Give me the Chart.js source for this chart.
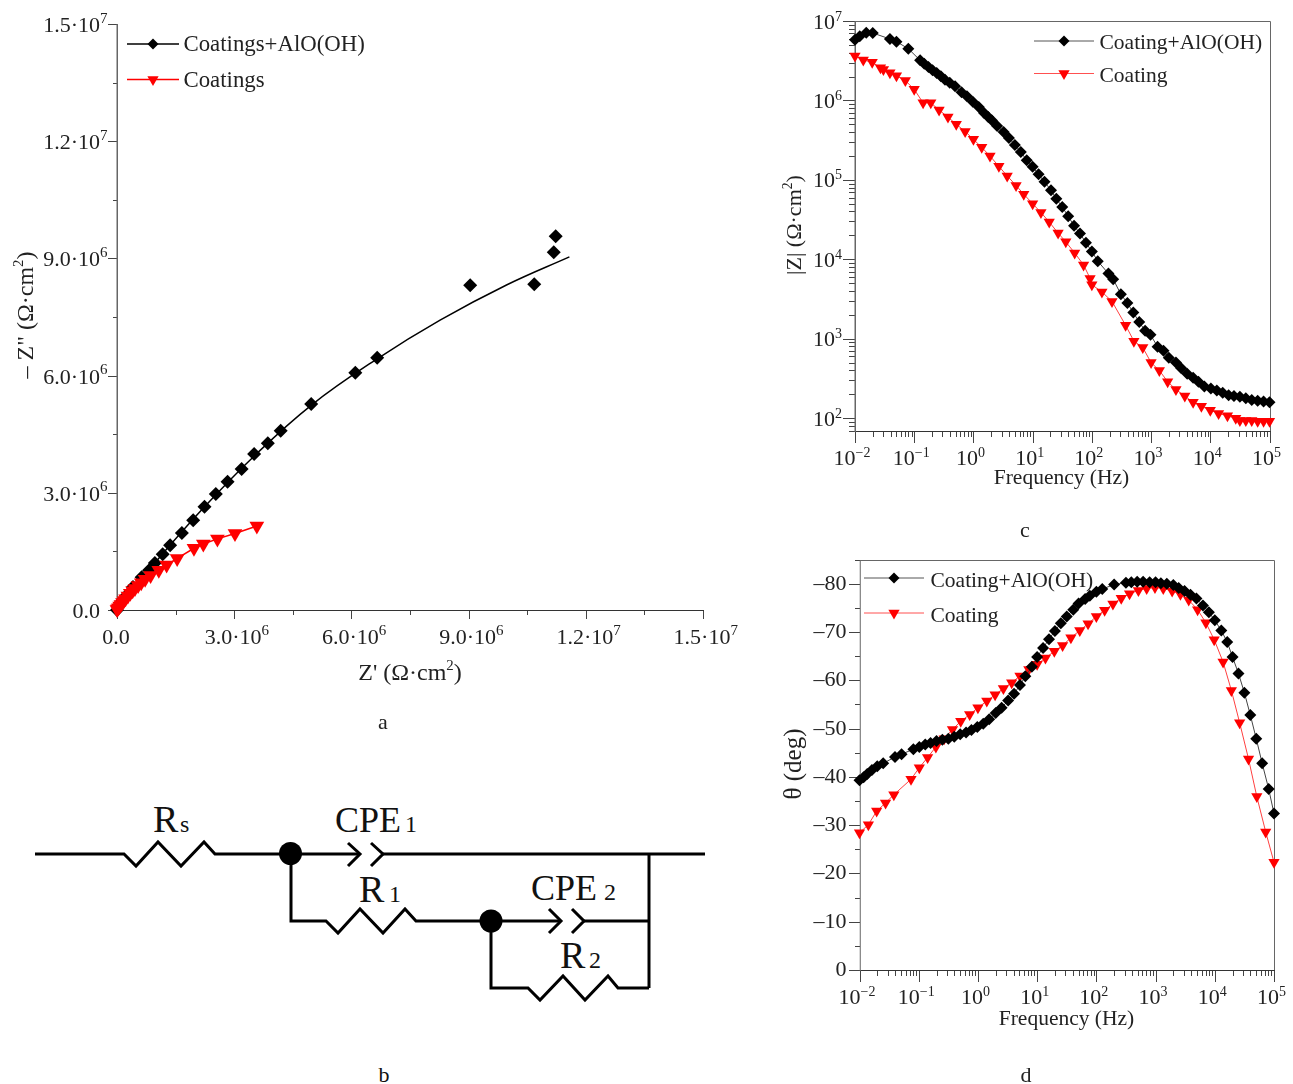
<!DOCTYPE html>
<html>
<head>
<meta charset="utf-8">
<title>EIS plots</title>
<script src="https://cdn.jsdelivr.net/npm/chart.js@4/dist/chart.umd.js"></script>
<style>
body { margin: 0; background: #fff; }
#page { position: relative; width: 1293px; height: 1084px; overflow: hidden; }
canvas, svg { position: absolute; display: block; }
svg text { font-family: "Liberation Serif", serif; fill: #111; }
</style>
</head>
<body>
<div id="page">
<canvas id="chartA" width="770" height="770" style="left:0;top:0"></canvas>
<canvas id="chartC" width="523" height="550" style="left:770px;top:0"></canvas>
<canvas id="chartD" width="523" height="534" style="left:770px;top:550px"></canvas>
<svg id="circuit" width="770" height="314" viewBox="0 770 770 314" style="left:0;top:770px">
  <g fill="none" stroke="#000" stroke-width="3" stroke-linejoin="miter">
    <polyline points="35,854 124,854 136,866 158,842 181,866 204,842 215,854 360,854"/>
    <polyline points="348,843 360,854 348,866"/>
    <polyline points="371,843 383,854 371,866"/>
    <polyline points="383,854 705,854"/>
    <polyline points="649,854 649,988"/>
    <polyline points="291,854 291,921 326,921 338,933 360,909 383,933 405,909 416,921 561,921"/>
    <polyline points="549,909 561,921 549,933"/>
    <polyline points="572,909 584,921 572,933"/>
    <polyline points="584,921 649,921"/>
    <polyline points="491,921 491,988 528,988 540,1000 563,976 585,1000 608,976 618,988 649,988"/>
  </g>
  <circle cx="290.5" cy="853.5" r="11.5"/>
  <circle cx="491" cy="921" r="11.5"/>
  <text x="153" y="832" font-size="38">R</text><text x="180" y="832" font-size="24">s</text>
  <text x="335" y="832" font-size="36">CPE</text><text x="405" y="832" font-size="24">1</text>
  <text x="359" y="902" font-size="38">R</text><text x="389" y="902" font-size="24">1</text>
  <text x="531" y="900" font-size="36">CPE</text><text x="604" y="900" font-size="24">2</text>
  <text x="560" y="968" font-size="38">R</text><text x="589" y="968" font-size="24">2</text>
  <text x="384" y="1082" font-size="22" text-anchor="middle">b</text>
</svg>
</div>
<script>
// panel a - Nyquist (ohm.cm2)
const aBlackRe = [0, 0.08e6, 0.25e6, 0.41e6, 0.63e6, 0.82e6, 0.97e6, 1.17e6, 1.36e6, 1.66e6, 1.95e6, 2.24e6, 2.53e6, 2.83e6, 3.19e6, 3.51e6, 3.86e6, 4.19e6, 4.97e6, 6.10e6, 6.66e6, 9.04e6, 10.68e6, 11.18e6, 11.23e6];
const aBlackIm = [0, 0.18e6, 0.38e6, 0.59e6, 0.84e6, 1.02e6, 1.20e6, 1.43e6, 1.66e6, 1.97e6, 2.30e6, 2.64e6, 2.97e6, 3.28e6, 3.61e6, 3.99e6, 4.27e6, 4.59e6, 5.27e6, 6.07e6, 6.46e6, 8.31e6, 8.34e6, 9.16e6, 9.57e6];
const aFitRe = [0, 1.0e6, 2.24e6, 3.5e6, 4.97e6, 6.66e6, 8.27e6, 9.97e6, 11.58e6];
const aFitIm = [0, 1.24e6, 2.64e6, 3.93e6, 5.24e6, 6.43e6, 7.42e6, 8.32e6, 9.04e6];
const aRedRe = [0, 0.02e6, 0.04e6, 0.07e6, 0.10e6, 0.14e6, 0.18e6, 0.22e6, 0.28e6, 0.34e6, 0.40e6, 0.46e6, 0.54e6, 0.62e6, 0.72e6, 0.86e6, 1.07e6, 1.27e6, 1.54e6, 1.97e6, 2.21e6, 2.57e6, 3.02e6, 3.58e6];
const aRedIm = [0.01e6, 0.03e6, 0.06e6, 0.10e6, 0.14e6, 0.19e6, 0.24e6, 0.29e6, 0.36e6, 0.43e6, 0.49e6, 0.55e6, 0.63e6, 0.70e6, 0.79e6, 0.88e6, 1.02e6, 1.15e6, 1.32e6, 1.58e6, 1.69e6, 1.82e6, 1.96e6, 2.15e6];
const aTicks = [0, 3e6, 6e6, 9e6, 12e6, 15e6];
const aTickBase = ['0.0', '3.0·10', '6.0·10', '9.0·10', '1.2·10', '1.5·10'];
const aTickSup = ['', '6', '6', '6', '7', '7'];
const aMinor = [1.5e6, 4.5e6, 7.5e6, 10.5e6, 13.5e6];

// panel c - Bode modulus, log10(f) and log10(|Z|)
const cBlackLogF = [-2, -1.92, -1.81, -1.70, -1.41, -1.30, -1.10, -0.90, -0.83, -0.76, -0.69, -0.62, -0.55, -0.48, -0.40, -0.31, -0.20, -0.11, -0.01, 0.09, 0.18, 0.25, 0.31, 0.40, 0.51, 0.60, 0.70, 0.80, 0.90, 1.00, 1.10, 1.20, 1.31, 1.40, 1.50, 1.60, 1.70, 1.80, 1.90, 2.00, 2.10, 2.28, 2.36, 2.49, 2.60, 2.70, 2.80, 2.90, 2.99, 3.11, 3.21, 3.30, 3.42, 3.51, 3.61, 3.71, 3.80, 3.90, 4.01, 4.11, 4.21, 4.31, 4.40, 4.50, 4.60, 4.70, 4.80, 4.90, 5];
const cBlackLogZ = [6.765, 6.807, 6.853, 6.849, 6.774, 6.740, 6.652, 6.505, 6.463, 6.421, 6.379, 6.346, 6.304, 6.262, 6.224, 6.178, 6.103, 6.052, 5.985, 5.918, 5.843, 5.792, 5.751, 5.679, 5.604, 5.528, 5.440, 5.352, 5.247, 5.164, 5.071, 4.975, 4.870, 4.761, 4.660, 4.543, 4.421, 4.325, 4.208, 4.099, 3.977, 3.82, 3.75, 3.56, 3.45, 3.33, 3.21, 3.10, 3.05, 2.90, 2.85, 2.76, 2.70, 2.63, 2.56, 2.51, 2.46, 2.40, 2.375, 2.35, 2.32, 2.29, 2.28, 2.27, 2.25, 2.23, 2.22, 2.21, 2.20];
const cRedLogF = [-2, -1.86, -1.71, -1.57, -1.52, -1.41, -1.30, -1.15, -1.0, -0.85, -0.72, -0.58, -0.43, -0.29, -0.14, 0, 0.14, 0.28, 0.43, 0.57, 0.72, 0.85, 1, 1.14, 1.28, 1.43, 1.56, 1.71, 1.86, 1.97, 2.0, 2.17, 2.34, 2.57, 2.71, 2.86, 3, 3.14, 3.28, 3.42, 3.57, 3.71, 3.85, 4, 4.14, 4.29, 4.43, 4.5, 4.6, 4.7, 4.8, 4.9, 5];
const cRedLogZ = [6.56, 6.51, 6.48, 6.41, 6.39, 6.35, 6.31, 6.25, 6.14, 5.97, 5.97, 5.88, 5.79, 5.70, 5.61, 5.51, 5.41, 5.30, 5.17, 5.05, 4.93, 4.82, 4.70, 4.59, 4.47, 4.33, 4.22, 4.08, 3.93, 3.76, 3.68, 3.59, 3.47, 3.17, 2.97, 2.89, 2.70, 2.60, 2.46, 2.36, 2.28, 2.20, 2.15, 2.10, 2.06, 2.03, 2.0, 1.97, 1.97, 1.97, 1.96, 1.96, 1.96];
const zTicks = [1e2, 1e3, 1e4, 1e5, 1e6, 1e7];
const zTickSup = ['2', '3', '4', '5', '6', '7'];

// panel d - Bode phase
const dBlackLogF = [-2, -1.93, -1.87, -1.79, -1.70, -1.60, -1.40, -1.29, -1.09, -0.99, -0.89, -0.80, -0.70, -0.60, -0.50, -0.40, -0.30, -0.20, -0.11, -0.01, 0.09, 0.19, 0.30, 0.40, 0.51, 0.61, 0.71, 0.80, 0.91, 1.0, 1.10, 1.20, 1.30, 1.40, 1.50, 1.61, 1.70, 1.81, 1.89, 2.0, 2.10, 2.30, 2.50, 2.59, 2.69, 2.79, 2.90, 3.0, 3.09, 3.19, 3.30, 3.39, 3.49, 3.59, 3.69, 3.80, 3.90, 4.0, 4.11, 4.21, 4.30, 4.40, 4.50, 4.60, 4.70, 4.80, 4.91, 5.0];
const dBlackTheta = [-39.3, -39.9, -40.6, -41.4, -42.2, -42.8, -44.1, -44.7, -45.7, -46.2, -46.7, -47.0, -47.4, -47.7, -47.9, -48.3, -48.8, -49.2, -49.7, -50.3, -51.0, -51.9, -53.2, -54.3, -55.8, -57.2, -59.0, -60.8, -62.8, -64.8, -66.7, -68.5, -70.2, -71.8, -73.2, -74.6, -75.9, -76.8, -77.5, -78.3, -78.9, -79.8, -80.2, -80.3, -80.4, -80.4, -80.3, -80.3, -80.1, -80, -79.7, -79.1, -78.5, -77.7, -76.9, -75.5, -74.1, -72.4, -70.3, -67.9, -64.8, -61.4, -57.4, -52.8, -47.9, -42.8, -37.5, -32.4];
const dRedLogF = [-2, -1.85, -1.71, -1.56, -1.42, -1.13, -0.99, -0.85, -0.71, -0.57, -0.43, -0.29, -0.14, 0, 0.15, 0.29, 0.43, 0.57, 0.71, 0.86, 1, 1.14, 1.29, 1.43, 1.57, 1.72, 1.86, 2, 2.14, 2.28, 2.42, 2.56, 2.71, 2.85, 2.99, 3.13, 3.28, 3.42, 3.56, 3.71, 3.85, 3.99, 4.14, 4.28, 4.42, 4.57, 4.71, 4.86, 5];
const dRedTheta = [-28.4, -30.1, -32.9, -34.6, -36.3, -39.5, -41.9, -44.0, -46.2, -47.9, -49.8, -51.5, -52.9, -54.3, -55.7, -57.0, -58.3, -59.5, -60.9, -62.2, -63.3, -64.6, -66.0, -67.2, -68.8, -70.3, -71.7, -73.2, -74.5, -75.8, -77.0, -77.9, -78.6, -79.0, -79.2, -79.0, -78.5, -77.8, -76.6, -74.6, -71.9, -68.4, -63.8, -57.9, -51.2, -43.7, -35.9, -28.6, -22.3];
const thetaTicks = [-80, -70, -60, -50, -40, -30, -20, -10, 0];
const thetaLabels = ['–80', '–70', '–60', '–50', '–40', '–30', '–20', '–10', '0'];
const thetaMinor = [-85, -75, -65, -55, -45, -35, -25, -15, -5];

const freqTicks = [1e-2, 1e-1, 1e0, 1e1, 1e2, 1e3, 1e4, 1e5];
const freqTickSup = ['−2', '−1', '0', '1', '2', '3', '4', '5'];
const freqMinor = logMinors(-2, 4);
const zMinor = [7e1, 8e1, 9e1].concat(logMinors(2, 6));

function logMinors(from, to) {
	var out = [];
	for (var e = from; e <= to; e++) {
		for (var m = 2; m < 10; m++) out.push(m * Math.pow(10, e));
	}
	return out;
}

const FONT = '"Liberation Serif", serif';
const TEXT = '#222';

function pairs(xs, ys) {
	return xs.map(function (x, i) { return { x: x, y: ys[i] }; });
}
function pow10(list) {
	return list.map(function (v) { return Math.pow(10, v); });
}

// text with a raised part, draws from x on the baseline y
function rich(ctx, parts, x, y, size, supSize, raise) {
	ctx.textAlign = 'left';
	ctx.textBaseline = 'alphabetic';
	ctx.fillStyle = TEXT;
	parts.forEach(function (p) {
		ctx.font = (p.sup ? supSize : size) + 'px ' + FONT;
		ctx.fillText(p.t, x, p.sup ? y - raise : y);
		x += ctx.measureText(p.t).width;
	});
}
function richWidth(ctx, parts, size, supSize) {
	var w = 0;
	parts.forEach(function (p) {
		ctx.font = (p.sup ? supSize : size) + 'px ' + FONT;
		w += ctx.measureText(p.t).width;
	});
	return w;
}

function axisOpts(type, min, max, majors, minors, reverse) {
	return {
		type: type, min: min, max: max, reverse: !!reverse, bounds: 'data',
		grid: { display: false },
		border: { display: false },
		ticks: { display: false, autoSkip: false },
		afterBuildTicks: function (s) {
			s.ticks = majors.map(function (v) { return { value: v, major: true }; })
				.concat(minors.map(function (v) { return { value: v, major: false }; }));
		},
		afterFit: function (s) {
			if (s.isHorizontal()) s.height = 0; else s.width = 0;
		}
	};
}

function markers(label, xs, ys, color, radius, lineWidth, lineColor, order) {
	var tri = color === '#ff0000';
	return {
		label: label, data: pairs(xs, ys), showLine: lineWidth > 0, order: order,
		borderColor: lineColor, borderWidth: lineWidth, tension: 0, clip: false,
		pointStyle: tri ? 'triangle' : 'rectRot', pointRotation: tri ? 180 : 0,
		pointRadius: radius, pointBorderWidth: 0, pointBackgroundColor: color
	};
}

// axes, tick marks, tick labels, titles and the line + marker legend
function panelPlugin(p) {
	return {
		id: 'panel',
		beforeDatasetsDraw: function (chart) {
			var c = chart.ctx, a = chart.chartArea;
			var l = Math.round(a.left), r = Math.round(a.right), t = Math.round(a.top), b = Math.round(a.bottom);
			c.save();
			c.lineWidth = 1;
			c.strokeStyle = '#444';
			chart.scales.x.ticks.forEach(function (k) {
				var x = Math.round(chart.scales.x.getPixelForValue(k.value)) + 0.5;
				c.beginPath(); c.moveTo(x, b); c.lineTo(x, b + (k.major ? p.xMajor : p.xMinor)); c.stroke();
			});
			chart.scales.y.ticks.forEach(function (k) {
				var y = Math.round(chart.scales.y.getPixelForValue(k.value)) + 0.5;
				c.beginPath(); c.moveTo(l, y); c.lineTo(l - (k.major ? p.yMajor : p.yMinor), y); c.stroke();
			});
			c.strokeStyle = '#333';
			c.beginPath(); c.moveTo(l, b + 0.5); c.lineTo(r + 1, b + 0.5); c.stroke();
			c.strokeStyle = '#666';
			c.lineWidth = p.leftWidth;
			c.beginPath(); c.moveTo(l + 0.25, t); c.lineTo(l + 0.25, b + 1); c.stroke();
			if (p.box) {
				c.lineWidth = 1;
				c.beginPath(); c.moveTo(l, t + 0.5); c.lineTo(r + 0.5, t + 0.5); c.lineTo(r + 0.5, b); c.stroke();
			}
			c.restore();
		},
		afterDraw: function (chart) {
			var c = chart.ctx;
			c.save();
			p.xBase.forEach(function (base, i) {
				var parts = [{ t: base }, { t: p.xSup[i], sup: true }];
				var x = chart.scales.x.getPixelForValue(p.xTicks[i]);
				var start;
				if (p.xCenterBase) {
					c.font = p.tickSize + 'px ' + FONT;
					start = x - c.measureText(base).width / 2 + p.xShift;
				} else {
					start = x - richWidth(c, parts, p.tickSize, p.supSize) / 2 + p.xShift;
				}
				rich(c, parts, start, p.xBaseline, p.tickSize, p.supSize, p.raise);
			});
			p.yBase.forEach(function (base, i) {
				var y = chart.scales.y.getPixelForValue(p.yTicks[i]);
				c.font = p.tickSize + 'px ' + FONT;
				var start = p.yRight - c.measureText(base).width;
				rich(c, [{ t: base }, { t: p.ySup[i], sup: true }], start, y + p.yDrop, p.tickSize, p.supSize, p.raise);
			});
			// x title
			var w = richWidth(c, p.xTitle.parts, p.xTitle.size, p.xTitle.size * 0.62);
			rich(c, p.xTitle.parts, p.xTitle.x - w / 2, p.xTitle.y, p.xTitle.size, p.xTitle.size * 0.62, p.xTitle.size * 0.42);
			// y title
			w = richWidth(c, p.yTitle.parts, p.yTitle.size, p.yTitle.size * 0.62);
			c.save();
			c.translate(p.yTitle.x, p.yTitle.y);
			c.rotate(-Math.PI / 2);
			rich(c, p.yTitle.parts, -w / 2, 0, p.yTitle.size, p.yTitle.size * 0.62, p.yTitle.size * 0.42);
			c.restore();
			// legend
			p.legend.forEach(function (it) {
				c.strokeStyle = it.lineColor;
				c.lineWidth = it.lineWidth;
				c.beginPath(); c.moveTo(p.legendX0, it.y + 0.5); c.lineTo(p.legendX1, it.y + 0.5); c.stroke();
				c.fillStyle = it.color;
				Chart.helpers.drawPoint(c, {
					pointStyle: it.tri ? 'triangle' : 'rectRot', rotation: it.tri ? 180 : 0,
					radius: it.tri ? 6.5 : 5.5, borderWidth: 0
				}, (p.legendX0 + p.legendX1) / 2, it.y + 0.5);
				rich(c, [{ t: it.text }], p.legendTextX, it.y + p.legendDrop, p.legendSize, 10, 0);
			});
			// panel letter
			c.font = '22px ' + FONT;
			c.fillStyle = TEXT;
			c.textAlign = 'center';
			c.fillText(p.letter.t, p.letter.x, p.letter.y);
			c.restore();
		}
	};
}

function makeChart(id, datasets, xAxis, yAxis, pad, panel) {
	return new Chart(document.getElementById(id), {
		type: 'scatter',
		data: { datasets: datasets },
		options: {
			responsive: false,
			animation: false,
			events: [],
			layout: { padding: pad },
			plugins: { legend: { display: false }, tooltip: { enabled: false } },
			scales: { x: xAxis, y: yAxis }
		},
		plugins: [panelPlugin(panel)]
	});
}

var aFit = markers('fit', aFitRe, aFitIm, '#000000', 0, 1.5, '#000', 2);
aFit.tension = 0.4;
makeChart('chartA', [
	markers('Coatings', aRedRe, aRedIm, '#ff0000', 8.5, 1.5, '#ff0000', 0),
	markers('Coatings+AlO(OH)', aBlackRe, aBlackIm, '#000000', 7, 0, '#000', 1),
	aFit
],
	axisOpts('linear', 0, 15e6, aTicks, aMinor),
	axisOpts('linear', 0, 15e6, aTicks, aMinor),
	{ left: 117, top: 24, right: 67, bottom: 160 },
	{
		xMajor: 9, xMinor: 5, yMajor: 9, yMinor: 4, leftWidth: 1.5, box: false,
		tickSize: 22, supSize: 15, raise: 9.5,
		xTicks: aTicks, xBase: aTickBase, xSup: aTickSup, xBaseline: 644, xCenterBase: true, xShift: -1,
		yTicks: aTicks, yBase: aTickBase, ySup: aTickSup, yRight: 100, yDrop: 8,
		xTitle: { parts: [{ t: "Z' (Ω·cm" }, { t: '2', sup: true }, { t: ')' }], x: 410, y: 680, size: 24 },
		yTitle: { parts: [{ t: '– Z" (Ω·cm' }, { t: '2', sup: true }, { t: ')' }], x: 33, y: 315, size: 24 },
		legendX0: 127, legendX1: 179, legendTextX: 183.5, legendDrop: 7.5, legendSize: 22.8,
		legend: [
			{ text: 'Coatings+AlO(OH)', y: 43.5, color: '#000', lineColor: '#000', lineWidth: 1.5 },
			{ text: 'Coatings', y: 79, color: '#f00', lineColor: '#f00', lineWidth: 1.5, tri: true }
		],
		letter: { t: 'a', x: 383, y: 729 }
	});

makeChart('chartC', [
	markers('Coating', pow10(cRedLogF), pow10(cRedLogZ), '#ff0000', 6.5, 1, '#ff4040', 1),
	markers('Coating+AlO(OH)', pow10(cBlackLogF), pow10(cBlackLogZ), '#000000', 6, 1, '#444', 0)
],
	axisOpts('logarithmic', 1e-2, 1e5, freqTicks, freqMinor),
	axisOpts('logarithmic', 70, 1e7, zTicks, zMinor),
	{ left: 85, top: 21, right: 23.5, bottom: 119.5 },
	{
		xMajor: 12, xMinor: 6, yMajor: 12, yMinor: 6, leftWidth: 1.5, box: true,
		tickSize: 22, supSize: 14, raise: 8,
		xTicks: freqTicks, xBase: freqTicks.map(function () { return '10'; }), xSup: freqTickSup, xBaseline: 465, xShift: -3,
		yTicks: zTicks, yBase: zTicks.map(function () { return '10'; }), ySup: zTickSup, yRight: 65, yDrop: 7.5,
		xTitle: { parts: [{ t: 'Frequency (Hz)' }], x: 291.5, y: 484, size: 21.5 },
		yTitle: { parts: [{ t: '|Z| (Ω·cm' }, { t: '2', sup: true }, { t: ')' }], x: 31, y: 225, size: 22 },
		legendX0: 264, legendX1: 324, legendTextX: 329.5, legendDrop: 8.5, legendSize: 21.5,
		legend: [
			{ text: 'Coating+AlO(OH)', y: 40.5, color: '#000', lineColor: '#555', lineWidth: 1 },
			{ text: 'Coating', y: 73, color: '#f00', lineColor: '#ff5050', lineWidth: 1, tri: true }
		],
		letter: { t: 'c', x: 255, y: 537 }
	});

makeChart('chartD', [
	markers('Coating', pow10(dRedLogF), dRedTheta, '#ff0000', 6.5, 1, '#ff4040', 1),
	markers('Coating+AlO(OH)', pow10(dBlackLogF), dBlackTheta, '#000000', 6, 1, '#444', 0)
],
	axisOpts('logarithmic', 1e-2, 1e5, freqTicks, freqMinor),
	axisOpts('linear', -85, 0, thetaTicks, thetaMinor, true),
	{ left: 89.5, top: 9.5, right: 19, bottom: 114 },
	{
		xMajor: 12, xMinor: 6, yMajor: 11, yMinor: 5, leftWidth: 1, box: true,
		tickSize: 22, supSize: 14, raise: 8,
		xTicks: freqTicks, xBase: freqTicks.map(function () { return '10'; }), xSup: freqTickSup, xBaseline: 454, xShift: -2.5,
		yTicks: thetaTicks, yBase: thetaLabels, ySup: thetaLabels.map(function () { return ''; }), yRight: 76.5, yDrop: 6,
		xTitle: { parts: [{ t: 'Frequency (Hz)' }], x: 296.5, y: 475, size: 21.5 },
		yTitle: { parts: [{ t: 'θ (deg)' }], x: 31, y: 214, size: 25 },
		legendX0: 94, legendX1: 154, legendTextX: 160.5, legendDrop: 9, legendSize: 21.5,
		legend: [
			{ text: 'Coating+AlO(OH)', y: 27.5, color: '#000', lineColor: '#555', lineWidth: 1 },
			{ text: 'Coating', y: 62.5, color: '#f00', lineColor: '#ff5050', lineWidth: 1, tri: true }
		],
		letter: { t: 'd', x: 256, y: 531.5 }
	});
</script>
</body>
</html>
